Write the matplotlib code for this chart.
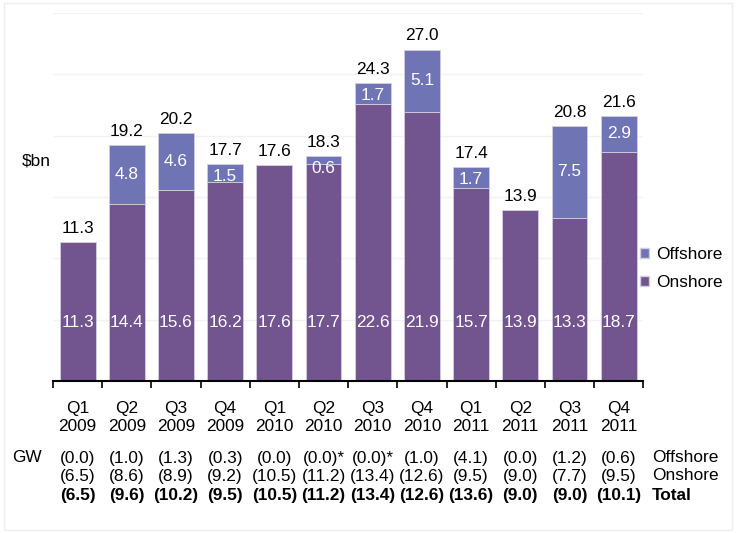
import numpy as np
import matplotlib.pyplot as plt
from matplotlib.patches import Patch, Rectangle

plt.rcParams['font.family'] = ['Liberation Sans', 'DejaVu Sans']

quarters = ['Q1\n2009', 'Q2\n2009', 'Q3\n2009', 'Q4\n2009',
            'Q1\n2010', 'Q2\n2010', 'Q3\n2010', 'Q4\n2010',
            'Q1\n2011', 'Q2\n2011', 'Q3\n2011', 'Q4\n2011']
onshore = [11.3, 14.4, 15.6, 16.2, 17.6, 17.7, 22.6, 21.9, 15.7, 13.9, 13.3, 18.7]
offshore = [0.0, 4.8, 4.6, 1.5, 0.0, 0.6, 1.7, 5.1, 1.7, 0.0, 7.5, 2.9]
totals = [11.3, 19.2, 20.2, 17.7, 17.6, 18.3, 24.3, 27.0, 17.4, 13.9, 20.8, 21.6]

gw_offshore = ['(0.0)', '(1.0)', '(1.3)', '(0.3)', '(0.0)', '(0.0)*', '(0.0)*',
               '(1.0)', '(4.1)', '(0.0)', '(1.2)', '(0.6)']
gw_onshore = ['(6.5)', '(8.6)', '(8.9)', '(9.2)', '(10.5)', '(11.2)', '(13.4)',
              '(12.6)', '(9.5)', '(9.0)', '(7.7)', '(9.5)']
gw_total = ['(6.5)', '(9.6)', '(10.2)', '(9.5)', '(10.5)', '(11.2)', '(13.4)',
            '(12.6)', '(13.6)', '(9.0)', '(9.0)', '(10.1)']

c_on = '#72548f'
c_off = '#6e74b4'
edge = '#d4cde0'
fs = 12.4

fig = plt.figure(figsize=(7.36, 5.33), dpi=100)
ax = fig.add_axes([0.072, 0.285, 0.802, 0.691])

x = np.arange(len(quarters))
ax.bar(x, onshore, width=0.73, color=c_on, edgecolor=edge, linewidth=0.6, zorder=2)
ax.bar(x, offshore, width=0.73, bottom=onshore, color=c_off, edgecolor=edge,
       linewidth=0.6, zorder=2)

for i in range(len(x)):
    ax.text(x[i], 4.8, f'{onshore[i]:.1f}', ha='center', va='center',
            color='white', fontsize=fs, zorder=3)
    if offshore[i] > 0:
        top = onshore[i] + offshore[i]
        ax.text(x[i], min(onshore[i] + offshore[i] / 2, top - 1.0), f'{offshore[i]:.1f}',
                ha='center', va='center', color='white', fontsize=fs, zorder=3)
    ax.text(x[i], totals[i] + 0.5, f'{totals[i]:.1f}', ha='center', va='bottom',
            color='black', fontsize=fs, zorder=3)

ax.set_xlim(-0.5, len(x) - 0.5)
ax.set_ylim(0, 30)
ax.set_yticks(np.arange(0, 31, 5))
ax.yaxis.grid(True, color='#f2f2f2', linewidth=1, zorder=0)
ax.set_axisbelow(True)
ax.tick_params(axis='y', length=0, labelleft=False)
for s in ['top', 'right', 'left']:
    ax.spines[s].set_visible(False)
ax.spines['bottom'].set_linewidth(1.5)

ax.set_xticks(np.arange(-0.5, len(x), 1.0))
ax.set_xticklabels([])
ax.tick_params(axis='x', which='major', direction='out', length=5, width=1.2)
ax.set_xticks(x, minor=True)
ax.set_xticklabels(quarters, minor=True, fontsize=fs, linespacing=1.3)
ax.tick_params(axis='x', which='minor', length=0, pad=14)

tr = ax.get_xaxis_transform()
rows = [(gw_offshore, 'normal', -0.209), (gw_onshore, 'normal', -0.258),
        (gw_total, 'bold', -0.310)]
for vals, wt, yy in rows:
    for i, v in enumerate(vals):
        ax.text(x[i], yy, v, transform=tr, ha='center', va='center',
                fontsize=fs, fontweight=wt, clip_on=False)

fig.text(0.886, 0.141, 'Offshore', ha='left', va='center', fontsize=fs)
fig.text(0.886, 0.107, 'Onshore', ha='left', va='center', fontsize=fs)
fig.text(0.886, 0.071, 'Total', ha='left', va='center', fontsize=fs, fontweight='bold')
fig.text(0.037, 0.141, 'GW', ha='center', va='center', fontsize=fs)
fig.text(0.049, 0.697, '$bn', ha='center', va='center', fontsize=fs)

handles = [Patch(facecolor=c_off, edgecolor=edge), Patch(facecolor=c_on, edgecolor=edge)]
ax.legend(handles, ['Offshore', 'Onshore'], loc='center left',
          bbox_to_anchor=(0.968, 0.305), frameon=False, fontsize=fs,
          handlelength=0.55, handleheight=0.55, handletextpad=0.4, labelspacing=0.75)

fig.patches.append(Rectangle((0.006, 0.006), 0.988, 0.988, transform=fig.transFigure,
                             fill=False, edgecolor='#eeeeee', linewidth=1))

fig.savefig('out.png', dpi=100)
